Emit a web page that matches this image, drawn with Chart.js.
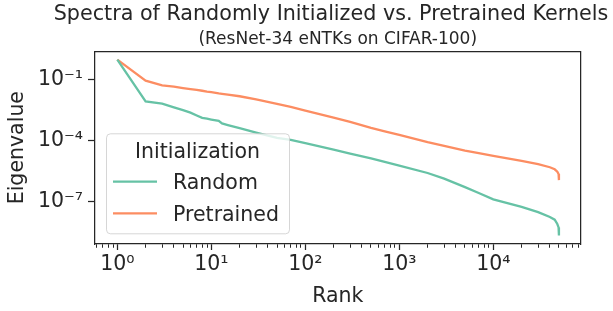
<!DOCTYPE html>
<html><head><meta charset="utf-8">
<script src="https://cdn.jsdelivr.net/npm/chart.js@4.4.0/dist/chart.umd.min.js"></script>
<style>html,body{margin:0;padding:0;background:#fff;} #wrap{position:relative;width:613px;height:311px;}</style>
</head><body><div id="wrap"><canvas id="c" width="613" height="311"></canvas></div>
<script>
// ---- data ----
const ranks = [1,2,3,4,5,6,7,8,9,10,12,13,15,20,30,50,70,100,200,300,500,700,1000,2000,3000,5000,7000,10000,20000,30000,40000,45000,48000,49500,49900,50000];
const randomEig = [0.93,8.17e-3,6.37e-3,4.19e-3,3.09e-3,2.34e-3,1.70e-3,1.29e-3,1.17e-3,1.07e-3,9.3e-4,6.9e-4,5.75e-4,4.07e-4,2.45e-4,1.35e-4,1.07e-4,7.4e-5,3.6e-5,2.3e-5,1.32e-5,8.9e-6,5.9e-6,2.57e-6,1.35e-6,5.2e-7,2.7e-7,1.32e-7,5.6e-8,3.1e-8,1.78e-8,1.32e-8,8.1e-9,5.5e-9,4.1e-9,2.2e-9];
const pretrainedEig = [0.93,0.0853,0.0501,0.0437,0.0372,0.0331,0.0302,0.0275,0.0251,0.0234,0.0204,0.0195,0.0178,0.0148,0.0105,6.3e-3,4.47e-3,2.95e-3,1.32e-3,8.3e-4,4.17e-4,2.82e-4,1.91e-4,8.3e-5,5.5e-5,3.24e-5,2.4e-5,1.78e-5,1.0e-5,6.9e-6,4.9e-6,3.9e-6,3.0e-6,2.3e-6,1.82e-6,1.15e-6];
const seriesNames = ['Random','Pretrained'];
const legendTitle = 'Initialization';
const xTickValues = [1,10,100,1000,10000];
const xTickLabels = ['10\u2070','10\u00b9','10\u00b2','10\u00b3','10\u2074'];
const xMinorTicks = [0.6,0.7,0.8,0.9,2,3,4,5,6,7,8,9,20,30,40,50,60,70,80,90,200,300,400,500,600,700,800,900,2000,3000,4000,5000,6000,7000,8000,9000,20000,30000,40000,50000,60000,70000,80000];
const yTickValues = [1e-1,1e-4,1e-7];
const yTickLabels = ['10\u207b\u00b9','10\u207b\u2074','10\u207b\u2077'];
const titleText = 'Spectra of Randomly Initialized vs. Pretrained Kernels';
const subtitleText = '(ResNet-34 eNTKs on CIFAR-100)';
const xLabel = 'Rank';
const yLabel = 'Eigenvalue';

const INK = '#262626';
const FONT = 'DejaVu Sans';

const decor = {
  id: 'decor',
  afterDraw(chart) {
    const ctx = chart.ctx, ca = chart.chartArea;
    ctx.save();
    ctx.fillStyle = INK;
    ctx.textBaseline = 'alphabetic';
    ctx.textAlign = 'center';
    ctx.font = '20.7px "' + FONT + '"';
    ctx.fillText(titleText, 331, 20);
    ctx.font = '17px "' + FONT + '"';
    ctx.fillText(subtitleText, (ca.left + ca.right) / 2, 44);
    // legend
    const bx = ca.left + 11, by = ca.top + 82, bw = 183, bh = 100;
    ctx.beginPath();
    ctx.roundRect(bx + 0.5, by + 0.5, bw, bh, 4);
    ctx.fillStyle = 'rgba(255,255,255,0.8)';
    ctx.fill();
    ctx.strokeStyle = 'rgba(204,204,204,0.8)';
    ctx.lineWidth = 1;
    ctx.stroke();
    ctx.fillStyle = INK;
    ctx.font = '20.5px "' + FONT + '"';
    ctx.textAlign = 'center';
    ctx.fillText(legendTitle, bx + bw / 2, by + 25);
    chart.data.datasets.forEach((ds, i) => {
      const y = by + 48.4 + i * 31.6;
      ctx.strokeStyle = ds.borderColor;
      ctx.lineWidth = ds.borderWidth;
      ctx.beginPath();
      ctx.moveTo(bx + 7, y);
      ctx.lineTo(bx + 51, y);
      ctx.stroke();
      ctx.textAlign = 'left';
      ctx.fillText(ds.label, bx + 67, y + 7.5);
    });
    ctx.restore();
  }
};

const isMajorX = v => xTickValues.indexOf(v) >= 0;

new Chart(document.getElementById('c'), {
  type: 'line',
  data: {
    datasets: [
      { label: seriesNames[0], data: ranks.map((r, i) => ({ x: r, y: randomEig[i] })),
        borderColor: '#66c2a5', backgroundColor: '#66c2a5', borderWidth: 2.3, pointRadius: 0, tension: 0, fill: false },
      { label: seriesNames[1], data: ranks.map((r, i) => ({ x: r, y: pretrainedEig[i] })),
        borderColor: '#fc8d62', backgroundColor: '#fc8d62', borderWidth: 2.3, pointRadius: 0, tension: 0, fill: false }
    ]
  },
  options: {
    responsive: false, animation: false, devicePixelRatio: 1,
    layout: { padding: { top: 51.3, right: 32.5, bottom: 0, left: 0 } },
    plugins: { legend: { display: false }, title: { display: false }, tooltip: { enabled: false } },
    scales: {
      x: {
        type: 'logarithmic', position: 'bottom', min: 0.579, max: 84700,
        afterFit(s) { s.height = 67; },
        afterBuildTicks(s) { s.ticks = xTickValues.concat(xMinorTicks).sort((a, b) => a - b).map(v => ({ value: v })); },
        ticks: { autoSkip: false, maxRotation: 0, minRotation: 0, padding: 2, color: INK,
          font: { family: FONT, size: 20.5 },
          callback(v) { const i = xTickValues.indexOf(v); return i >= 0 ? xTickLabels[i] : ''; } },
        grid: { drawOnChartArea: false, drawTicks: true, tickLength: 6, tickColor: INK,
          tickWidth: c => (c.tick && isMajorX(c.tick.value)) ? 1.25 : 1,
          tickBorderDash: c => (c.tick && isMajorX(c.tick.value)) ? [] : [3.5, 50] },
        border: { display: true, color: INK, width: 1.25 },
        title: { display: true, text: xLabel, color: INK, font: { family: FONT, size: 20.5 }, padding: { top: 0, bottom: 2 } }
      },
      y: {
        type: 'logarithmic', position: 'left', min: 8.5e-10, max: 2.36,
        afterFit(s) { s.width = 95; },
        afterBuildTicks(s) { s.ticks = yTickValues.map(v => ({ value: v })); },
        ticks: { autoSkip: false, padding: 5, color: INK, font: { family: FONT, size: 20.5 },
          callback(v) { const i = yTickValues.indexOf(v); return i >= 0 ? yTickLabels[i] : ''; } },
        grid: { drawOnChartArea: false, drawTicks: true, tickLength: 7, tickColor: INK, tickWidth: 1.25 },
        border: { display: true, color: INK, width: 1.25 },
        title: { display: true, text: yLabel, color: INK, font: { family: FONT, size: 20.5 }, padding: { top: 5, bottom: 0 } }
      },
      x2: {
        type: 'linear', position: 'top', min: 0, max: 1,
        afterFit(s) { s.height = 0; },
        ticks: { display: false }, grid: { drawOnChartArea: false, drawTicks: false },
        border: { display: true, color: INK, width: 1.25 }
      },
      y2: {
        type: 'linear', position: 'right', min: 0, max: 1,
        afterFit(s) { s.width = 0; },
        ticks: { display: false }, grid: { drawOnChartArea: false, drawTicks: false },
        border: { display: true, color: INK, width: 1.25 }
      }
    }
  },
  plugins: [decor]
});
</script>
</body></html>
